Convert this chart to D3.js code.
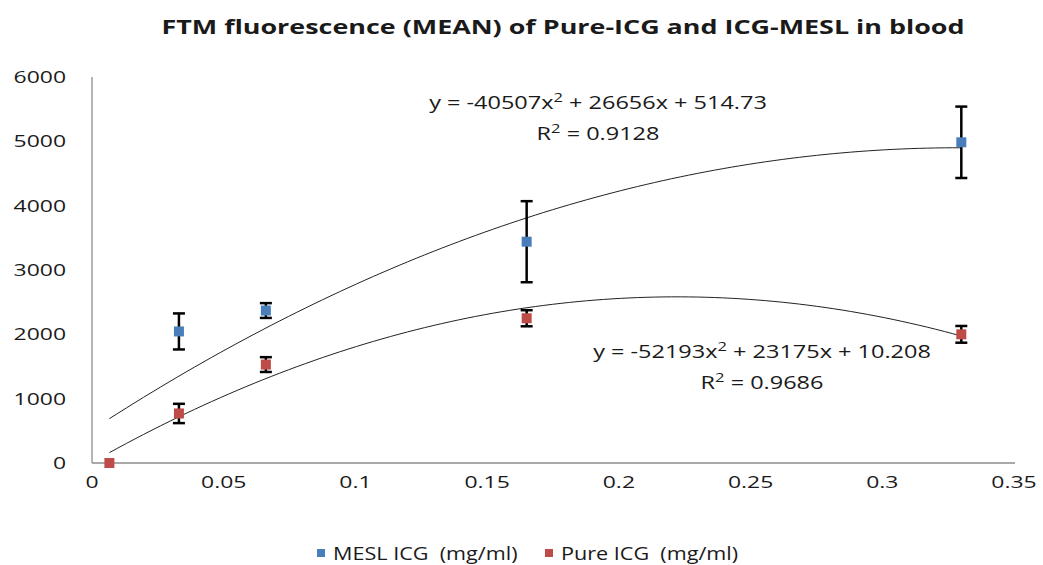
<!DOCTYPE html>
<html>
<head>
<meta charset="utf-8">
<script src="https://cdn.jsdelivr.net/npm/d3@7"></script>
<style>
  body { margin: 0; background: #fff; }
  svg text { font-family: "Open Sans", sans-serif; fill: #1a1a1a; white-space: pre; }
</style>
</head>
<body>
<svg id="chart" width="1043" height="565"></svg>
<script>
// concentrations (mg/ml)
const concMESL = [0.033, 0.066, 0.165, 0.33];
const concPure = [0.0066, 0.033, 0.066, 0.165, 0.33];

// mean fluorescence and error
const meanMESL = [2045, 2370, 3440, 4985];
const errMESL  = [280, 115, 630, 555];
const meanPure = [0, 770, 1530, 2250, 2000];
const errPure  = [0, 150, 115, 125, 130];

// polynomial trendline coefficients [a, b, c] for y = a x^2 + b x + c
const fitMESL = [-40507, 26656, 514.73];
const fitPure = [-52193, 23175, 10.208];

const yTicks = [0, 1000, 2000, 3000, 4000, 5000, 6000];
const xTicks = [0, 0.05, 0.1, 0.15, 0.2, 0.25, 0.3, 0.35];

const svg = d3.select('#chart');

const x = d3.scaleLinear().domain([0, 0.35]).range([92, 1014]);
const y = d3.scaleLinear().domain([0, 6000]).range([463, 77]);

// text in the picture is widened horizontally, so each label gets a x-stretch
function stext(g, px, py, str, size, anchor, weight, stretch) {
  return g.append('text')
    .attr('transform', `translate(${px},${py}) scale(${stretch || 1.35},1)`)
    .attr('text-anchor', anchor || 'middle')
    .style('font-size', size + 'px')
    .style('font-weight', weight || 'normal')
    .text(str);
}

// title
stext(svg, 563, 34, 'FTM fluorescence (MEAN) of Pure-ICG and ICG-MESL in blood', 19.5, 'middle', 'bold', 1.38);

// axes lines
svg.append('line')
  .attr('x1', x(0)).attr('x2', x(0))
  .attr('y1', y(6000)).attr('y2', y(0))
  .attr('stroke', '#8c8c8c').attr('stroke-width', 1.3);
svg.append('line')
  .attr('x1', x(0)).attr('x2', x(0.35) + 1)
  .attr('y1', y(0)).attr('y2', y(0))
  .attr('stroke', '#8c8c8c').attr('stroke-width', 1.3);

// tick labels
yTicks.forEach(t => stext(svg, 66, y(t) + 6, String(t), 17, 'end'));
xTicks.forEach(t => stext(svg, x(t), 488, String(t), 17, 'middle'));

// trendlines
function trend(coef, xs) {
  const lo = d3.min(xs), hi = d3.max(xs);
  const pts = d3.range(0, 101).map(i => {
    const v = lo + (hi - lo) * i / 100;
    return [v, coef[0] * v * v + coef[1] * v + coef[2]];
  });
  svg.append('path')
    .attr('d', d3.line().x(d => x(d[0])).y(d => y(d[1]))(pts))
    .attr('fill', 'none')
    .attr('stroke', '#222')
    .attr('stroke-width', 1);
}
trend(fitMESL, concPure);
trend(fitPure, concPure);

// error bars + markers
function series(xs, means, errs, color) {
  const g = svg.append('g');
  xs.forEach((v, i) => {
    if (errs[i] > 0) {
      const cx = x(v);
      g.append('line')
        .attr('x1', cx).attr('x2', cx)
        .attr('y1', y(means[i] + errs[i])).attr('y2', y(means[i] - errs[i]))
        .attr('stroke', '#000').attr('stroke-width', 2.5);
      [means[i] + errs[i], means[i] - errs[i]].forEach(e => {
        g.append('line')
          .attr('x1', cx - 6).attr('x2', cx + 6)
          .attr('y1', y(e)).attr('y2', y(e))
          .attr('stroke', '#000').attr('stroke-width', 2.5);
      });
    }
  });
  g.selectAll('rect.m')
    .data(xs.map((v, i) => [v, means[i]]))
    .enter().append('rect')
    .attr('x', d => x(d[0]) - 5)
    .attr('y', d => y(d[1]) - 5)
    .attr('width', 10).attr('height', 10)
    .attr('fill', color);
}
series(concMESL, meanMESL, errMESL, '#4a7ebb');
series(concPure, meanPure, errPure, '#be4b48');

// equations
function equation(cx, cy, coef, r2) {
  const st = 1.27;
  const t = svg.append('text')
    .attr('transform', `translate(${cx},${cy}) scale(${st},1)`)
    .attr('text-anchor', 'middle')
    .style('font-size', '18.5px');
  t.append('tspan').text(`y = ${coef[0]}x`);
  t.append('tspan').attr('dy', -7).style('font-size', '13px').text('2');
  t.append('tspan').attr('dy', 7).text(` + ${coef[1]}x + ${coef[2]}`);
  const r = svg.append('text')
    .attr('transform', `translate(${cx},${cy + 31}) scale(${st},1)`)
    .attr('text-anchor', 'middle')
    .style('font-size', '18.5px');
  r.append('tspan').text('R');
  r.append('tspan').attr('dy', -7).style('font-size', '13px').text('2');
  r.append('tspan').attr('dy', 7).text(' = ' + r2);
}
equation(598, 109, fitMESL, '0.9128');
equation(762, 358, fitPure, '0.9686');

// legend
const legendItems = [
  { label: 'MESL ICG  (mg/ml)', color: '#4a7ebb', x: 317 },
  { label: 'Pure ICG  (mg/ml)', color: '#be4b48', x: 545 }
];
legendItems.forEach(d => {
  svg.append('rect')
    .attr('x', d.x).attr('y', 549)
    .attr('width', 8).attr('height', 8)
    .attr('fill', d.color);
  stext(svg, d.x + 16, 560, d.label, 18, 'start', 'normal', 1.2);
});
</script>
</body>
</html>
